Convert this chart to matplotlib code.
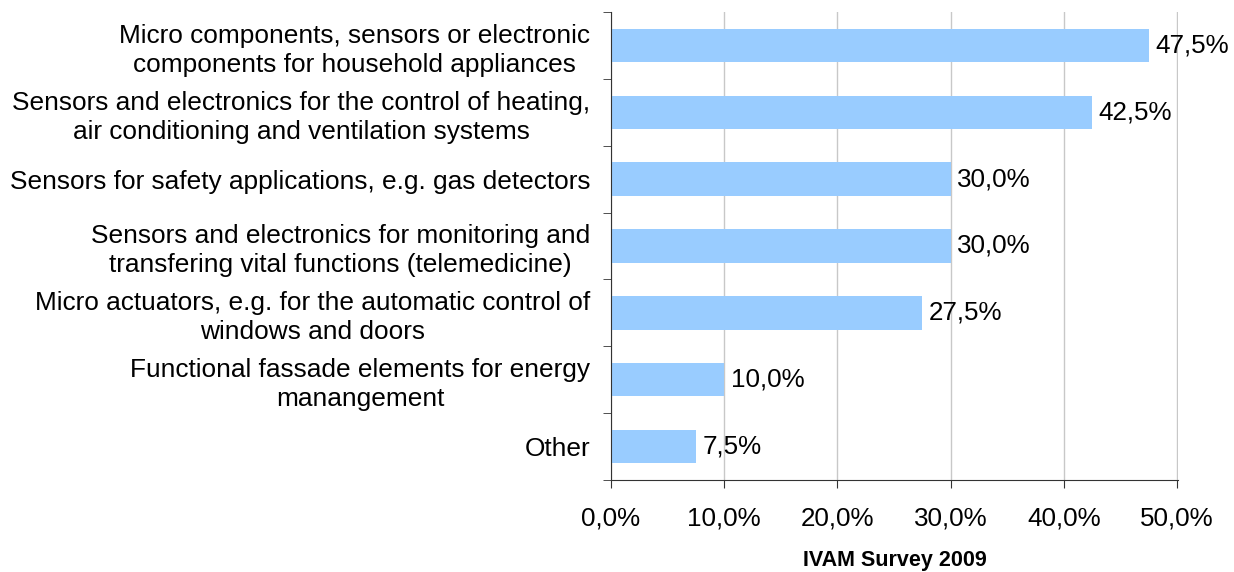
import numpy as np
import matplotlib.pyplot as plt
from matplotlib.ticker import FixedLocator, FuncFormatter

plt.rcParams['font.family'] = ['Liberation Sans', 'DejaVu Sans']

categories = [
    "Micro components, sensors or electronic\ncomponents for household appliances",
    "Sensors and electronics for the control of heating,\nair conditioning and ventilation systems",
    "Sensors for safety applications, e.g. gas detectors",
    "Sensors and electronics for monitoring and\ntransfering vital functions (telemedicine)",
    "Micro actuators, e.g. for the automatic control of\nwindows and doors",
    "Functional fassade elements for energy\nmanangement",
    "Other",
]
values = [47.5, 42.5, 30.0, 30.0, 27.5, 10.0, 7.5]
xticks = [0, 10, 20, 30, 40, 50]

fig = plt.figure(figsize=(12.34, 5.72), dpi=100)
ax = fig.add_axes([611/1234, 1 - 480/572, (1178 - 611)/1234, (480 - 12)/572])

y = np.arange(len(categories))
ax.barh(y, values, height=0.5, color='#99CCFF', zorder=2)

for yi, v in zip(y, values):
    ax.text(v + 0.6, yi, f"{v:.1f}%".replace('.', ','), va='center', ha='left', fontsize=18.7)

ax.set_xlim(0, 50.1)
ax.set_ylim(len(categories) - 0.5, -0.5)
ax.set_xticks(xticks)
ax.xaxis.set_major_formatter(FuncFormatter(lambda v, p: f"{v:.1f}%".replace('.', ',')))
ax.tick_params(axis='x', labelsize=18.7, length=6, direction='out', pad=13, color='#333333')
ax.grid(axis='x', color='#c8c8c8', linewidth=1, zorder=0)

ax.set_yticks(y)
ax.set_yticklabels(categories, fontsize=18.9, multialignment='center', linespacing=1.25)
ax.tick_params(axis='y', which='major', length=0, pad=15)
ax.yaxis.set_minor_locator(FixedLocator(np.arange(len(categories) + 1) - 0.5))
ax.tick_params(axis='y', which='minor', length=6, direction='out', color='#333333')

for s in ['top', 'right']:
    ax.spines[s].set_visible(False)
ax.spines['left'].set_color('#333333')
ax.spines['bottom'].set_color('#333333')

ax.set_xlabel("IVAM Survey 2009", fontsize=15.5, fontweight='bold', labelpad=14)

fig.savefig('out.png', dpi=100)
